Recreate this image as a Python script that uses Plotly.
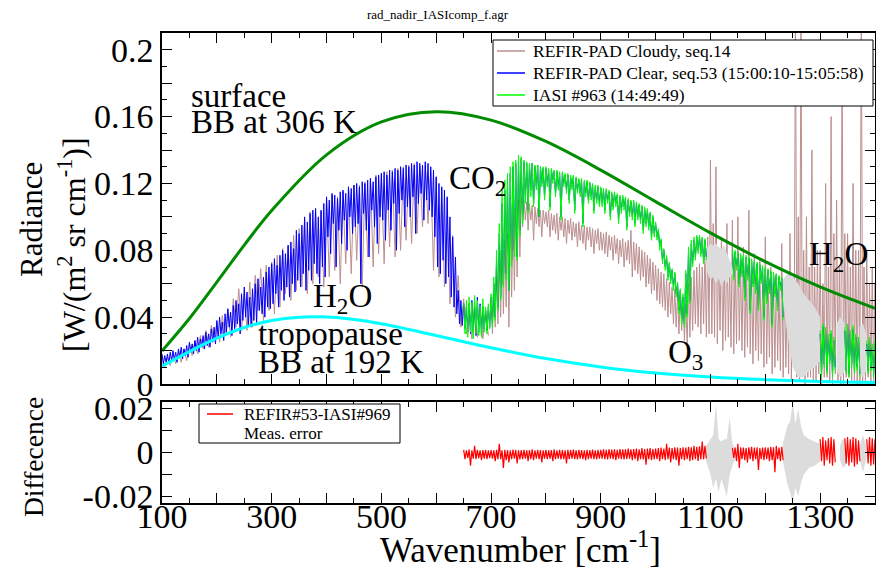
import plotly.graph_objects as go

# ---------------- data ----------------
W, H = 876, 571
N = None

# Black-body curves (radiance in W/(m2 sr cm-1))
bb306_wn = [100, 150, 200, 250, 300, 400, 500, 600, 700, 800, 900, 1000, 1100, 1200, 1300, 1400]
bb306_val = [0.0198, 0.0392, 0.0610, 0.0831, 0.1038, 0.1371, 0.1568, 0.1629, 0.1579, 0.1451,
             0.1280, 0.1091, 0.0904, 0.0732, 0.0581, 0.0453]
bb192_wn = [100, 150, 200, 250, 300, 350, 400, 450, 500, 600, 700, 800, 900, 1000, 1100, 1200, 1300, 1400]
bb192_val = [0.0107, 0.0194, 0.0274, 0.0338, 0.0380, 0.0400, 0.0401, 0.0386, 0.0360, 0.0290,
             0.0217, 0.0152, 0.0102, 0.0066, 0.0042, 0.0026, 0.0015, 0.0009]

# Spectra, in units of 1e-3 W/(m2 sr cm-1): upper level (hi) and line-core level (lo)
wn5_full = list(range(100, 1401, 5))    # 261 points
wn5_iasi = list(range(650, 1401, 5))    # 151 points
wn5_cloud = list(range(700, 1401, 5))   # 141 points
wn10_cloud = list(range(100, 691, 10))  # 60 points

clear_hi_m = [
    18, 17, 18, 19, 20, 19, 21, 22, 21, 23, 25, 24, 26, 28, 27, 29, 31, 30, 33, 34,
    38, 40, 37, 42, 45, 43, 47, 50, 48, 54, 58, 55, 52, 57, 60, 63, 58, 64, 67, 70,
    72, 75, 71, 77, 80, 78, 83, 85, 81, 92, 90, 95, 100, 97, 102, 104, 105, 100, 104, 108,
    112, 110, 114, 113, 111, 115, 116, 114, 118, 117, 119, 120, 118, 121, 120, 122, 123, 121, 124, 125,
    126, 127, 125, 128, 127, 129, 128, 130, 129, 131, 130, 132, 131, 133, 132, 131, 133, 132, 130, 128,
    124, 120, 118, 116, 112, 100, 88, 76, 56, 50, 48, 46, 48, 50, 46, 52, 48, 46, 44, 46,
    52, 60, 74, 90, 108, 116, 122, 126, 130, 132, 134, 135, 133, 132, 131, 132, 130, 131, 130, 129,
    129, 128, 128, 127, 127, 126, 126, 125, 125, 124, 124, 123, 122, 122, 121, 121, 120, 119, 118, 118,
    117, 116, 116, 115, 114, 114, 113, 112, 112, 111, 110, 109, 109, 108, 107, 106, 105, 104, 102, 100,
    96, 92, 86, 80, 76, 72, 68, 66, 60, 56, 52, 66, 80, 84, 86, 88, 88, 87, 86, N,
    N, N, N, N, N, N, N, N, 80, 79, 78, 77, 76, 76, 75, 74, 73, 72, 71, 70,
    69, 68, 67, 66, 65, 64, 63, N, N, N, N, N, N, N, N, N, N, N, N, N,
    30, 34, 32, 28, 30, 26, N, N, N, 32, 34, 30, 33, 28, 26, N, N, 24, 26, 22,
    24]
clear_lo_m = [
    12, 13, 12, 14, 15, 13, 16, 15, 17, 16, 19, 18, 20, 19, 22, 21, 23, 22, 25, 24,
    27, 30, 26, 31, 34, 29, 33, 36, 30, 38, 40, 35, 34, 38, 36, 44, 42, 40, 46, 45,
    48, 54, 46, 56, 50, 58, 52, 60, 55, 62, 58, 66, 56, 68, 62, 72, 66, 60, 70, 64,
    88, 78, 96, 70, 92, 84, 98, 80, 100, 90, 94, 96, 60, 102, 92, 76, 104, 94, 84, 100,
    98, 86, 104, 92, 108, 80, 102, 110, 94, 106, 100, 112, 90, 108, 114, 98, 110, 104, 100, 88,
    70, 66, 74, 60, 64, 52, 46, 42, 36, 35, 33, 31, 30, 32, 29, 31, 30, 33, 32, 34,
    36, 40, 46, 52, 60, 66, 56, 74, 80, 76, 92, 98, 110, 104, 116, 108, 118, 100, 120, 112,
    120, 106, 122, 114, 118, 100, 120, 116, 110, 118, 104, 116, 114, 96, 114, 110, 112, 104, 110, 108,
    108, 104, 110, 100, 106, 108, 98, 104, 106, 94, 102, 100, 96, 100, 98, 92, 96, 94, 88, 90,
    88, 82, 74, 70, 64, 62, 58, 54, 44, 38, 36, 42, 50, 72, 76, 80, 78, 74, 76, N,
    N, N, N, N, N, N, N, N, 64, 70, 60, 66, 52, 64, 44, 60, 56, 46, 62, 40,
    50, 56, 36, 54, 46, 58, 40, N, N, N, N, N, N, N, N, N, N, N, N, N,
    6, 12, 8, 14, 6, 10, N, N, N, 8, 6, 12, 8, 10, 6, N, N, 8, 10, 6,
    10]

iasi_hi_m = [
    48, 50, 52, 49, 53, 50, 47, 51, 46, 48,
    54, 64, 80, 96, 116, 122, 126, 130, 133, 134, 137, 136, 134, 133, 132, 132, 131, 131, 130, 130,
    130, 129, 129, 128, 128, 127, 127, 126, 126, 125, 125, 124, 123, 123, 122, 122, 121, 120, 119, 119,
    118, 117, 117, 116, 115, 115, 114, 113, 113, 112, 111, 110, 110, 109, 108, 107, 106, 105, 103, 101,
    97, 93, 87, 81, 77, 73, 69, 67, 61, 57, 54, 68, 82, 86, 88, 89, 89, 88, 87, N,
    N, N, N, N, N, N, N, N, 81, 80, 79, 78, 77, 77, 76, 75, 74, 73, 72, 71,
    70, 69, 68, 67, 66, 65, 64, N, N, N, N, N, N, N, N, N, N, N, N, N,
    32, 36, 34, 30, 32, 28, N, N, N, 34, 36, 32, 35, 30, 28, N, N, 26, 28, 24,
    26]
iasi_lo_m = [
    30, 28, 31, 27, 30, 29, 28, 31, 30, 33,
    34, 38, 44, 50, 58, 62, 56, 70, 76, 74, 88, 96, 108, 102, 112, 106, 116, 100, 118, 110,
    118, 104, 120, 112, 116, 98, 118, 114, 108, 116, 102, 114, 112, 94, 112, 108, 110, 102, 108, 106,
    106, 102, 108, 98, 104, 106, 96, 102, 104, 92, 100, 98, 94, 98, 96, 90, 94, 92, 86, 88,
    86, 80, 72, 68, 62, 60, 56, 52, 42, 36, 34, 40, 48, 70, 74, 78, 76, 72, 74, N,
    N, N, N, N, N, N, N, N, 62, 68, 58, 64, 50, 62, 42, 58, 54, 44, 60, 38,
    48, 54, 34, 52, 44, 56, 38, N, N, N, N, N, N, N, N, N, N, N, N, N,
    4, 10, 6, 12, 4, 8, N, N, N, 6, 4, 10, 6, 8, 4, N, N, 6, 8, 4,
    8]

# cloudy spectrum below 700 cm-1 (10 cm-1 grid) and from 700 cm-1 (5 cm-1 grid)
cloud_lowwn_hi_m = [
    17, 16, 18, 19, 21, 24, 26, 29, 32, 35, 37, 41, 45, 51, 57, 54, 61, 65, 69, 71,
    73, 77, 81, 83, 89, 93, 99, 103, 105, 103, 111, 113, 112, 115, 117, 119, 119, 121, 123, 125,
    126, 127, 128, 129, 130, 131, 132, 130, 131, 127, 123, 117, 111, 89, 65, 51, 45, 49, 47, 45]
cloud_lowwn_lo_m = [
    10, 11, 12, 13, 14, 17, 18, 21, 22, 26, 25, 29, 28, 34, 32, 32, 34, 44, 38, 44,
    42, 46, 54, 50, 56, 58, 54, 60, 64, 58, 64, 68, 60, 72, 66, 74, 58, 76, 70, 78,
    72, 82, 76, 80, 86, 84, 90, 94, 96, 68, 64, 58, 48, 40, 34, 30, 27, 28, 27, 29]
cloud_hi_m = [
    52, 58, 64, 72, 80, 86, 90, 96, 100, 106, 110, 112, 110, 109, 108, 107, 106, 105, 104, 104,
    103, 104, 102, 101, 102, 100, 100, 99, 98, 99, 97, 96, 97, 95, 95, 94, 94, 93, 92, 93,
    91, 90, 91, 89, 88, 89, 87, 86, 87, 85, 86, 92, 85, 84, 82, 80, 79, 77, 75, 73,
    71, 69, 67, 66, 63, 61, 58, 57, 55, 53, 50, 48, 60, 64, 68, 70, 72, 70, 82, 88,
    134, 96, 130, 80, 88, 74, 96, 70, 98, 76, 100, 72, 82, 68, 104, 66, 78, 64, 74, 60,
    88, 66, 70, 62, 66, 58, 84, 60, 60, 90, 64, 230, 100, 220, 80, 100, 70, 140, 70, 80,
    80, 60, 120, 70, 160, 90, 110, 70, 200, 90, 90, 70, 120, 80, 80, 230, 70, 80, 60, 70,
    60]
cloud_lo_m = [
    30, 34, 36, 40, 42, 46, 34, 52, 56, 64, 76, 94, 98, 92, 98, 86, 96, 94, 88, 96,
    94, 88, 92, 90, 86, 92, 88, 84, 90, 86, 88, 82, 86, 84, 80, 86, 82, 78, 84, 80,
    80, 78, 76, 80, 74, 78, 72, 76, 70, 74, 72, 64, 68, 66, 62, 64, 58, 60, 54, 56,
    50, 48, 46, 44, 40, 42, 36, 34, 30, 32, 26, 24, 28, 32, 36, 34, 30, 36, 28, 30,
    30, 28, 24, 32, 20, 26, 28, 22, 18, 24, 26, 20, 16, 22, 18, 12, 20, 14, 18, 10,
    12, 16, 6, 10, 14, 8, 4, 10, 6, 2, 10, 4, 2, 6, 0, 4, 4, 2, 2, 6,
    0, 4, 4, 2, 0, 6, 2, 0, 0, 4, 4, 2, 2, 0, 0, 2, 2, 4, 0, 2,
    4]

# Difference REFIR#53 - IASI#969, in units of 1e-4 W/(m2 sr cm-1)
diff_hi_u = [
    12, 10, 14, 10, 30, 12, 10, 11, 12, 10,
    11, 10, 12, 40, 10, 12, 11, 10, 13, 12, 10, 11, 12, 10, 11, 14, 10, 12, 11, 10,
    12, 10, 11, 14, 10, 12, 11, 10, 12, 11, 13, 10, 12, 11, 10, 12, 11, 13, 10, 12,
    12, 14, 12, 15, 13, 14, 12, 16, 14, 15, 18, 14, 16, 18, 15, 20, 16, 18, 20, 16,
    18, 20, 22, 18, 40, 22, 20, 24, 22, 20, 24, 22, 26, 24, 30, 26, 28, 50, 30, N,
    N, N, N, N, N, N, N, N, 20, 22, 40, 24, 22, 20, 24, 26, 22, 24, 20, 22,
    24, 22, 26, 24, 30, 22, 26, N, N, N, N, N, N, N, N, N, N, N, N, N,
    60, 70, 55, 65, 70, 60, N, N, N, 65, 70, 60, 70, 65, 55, N, N, 60, 70, 65,
    60]
diff_lo_u = [
    -30, -25, -60, -28, -30, -26, -35, -28, -30, -26,
    -28, -40, -30, -30, -70, -35, -45, -30, -28, -50, -32, -30, -28, -40, -30, -35, -28, -30, -45, -28,
    -30, -28, -40, -30, -28, -32, -30, -50, -30, -28, -30, -32, -28, -30, -35, -30, -28, -30, -32, -28,
    -28, -30, -32, -28, -30, -35, -28, -30, -32, -30, -28, -35, -30, -40, -30, -32, -55, -30, -35, -32,
    -30, -40, -30, -35, -30, -45, -30, -35, -60, -30, -35, -30, -40, -35, -30, -38, -32, -30, -28, N,
    N, N, N, N, N, N, N, N, -25, -40, -70, -30, -35, -45, -30, -40, -30, -80, -30, -35,
    -30, -40, -35, -90, -30, -40, -35, N, N, N, N, N, N, N, N, N, N, N, N, N,
    -40, -60, -35, -50, -60, -45, N, N, N, -50, -60, -45, -65, -55, -40, N, N, -50, -60, -55,
    -45]

# Grey masked regions in the radiance panel (wn, upper, lower)
grey_top = [
    ([1090, 1095, 1100, 1105, 1110, 1115, 1120, 1125, 1130, 1135, 1140, 1145],
     [0.080, 0.082, 0.084, 0.083, 0.084, 0.082, 0.081, 0.083, 0.078, 0.074, 0.070, 0.066],
     [0.074, 0.066, 0.062, 0.064, 0.060, 0.063, 0.058, 0.062, 0.060, 0.064, 0.066, 0.064]),
    ([1232, 1240, 1250, 1260, 1270, 1280, 1290, 1300],
     [0.062, 0.066, 0.064, 0.060, 0.054, 0.050, 0.046, 0.040],
     [0.050, 0.030, 0.010, 0.004, 0.004, 0.008, 0.010, 0.014]),
    ([1330, 1336, 1342, 1347], [0.036, 0.040, 0.038, 0.032], [0.008, 0.004, 0.006, 0.010]),
    ([1372, 1378, 1384], [0.034, 0.036, 0.030], [0.006, 0.004, 0.008]),
]
# Grey measurement error in the difference panel (wn, upper, lower)
grey_err = [
    ([1092, 1100, 1105, 1110, 1115, 1120, 1125, 1130, 1135, 1140, 1145],
     [0.003, 0.006, 0.008, 0.022, 0.006, 0.005, 0.006, 0.006, 0.016, 0.004, 0.002],
     [-0.004, -0.010, -0.016, -0.012, -0.018, -0.012, -0.016, -0.020, -0.010, -0.006, -0.003]),
    ([1232, 1240, 1245, 1250, 1255, 1260, 1265, 1270, 1280, 1290, 1300],
     [0.004, 0.012, 0.014, 0.023, 0.013, 0.020, 0.012, 0.008, 0.006, 0.005, 0.004],
     [-0.004, -0.014, -0.018, -0.023, -0.016, -0.020, -0.014, -0.010, -0.007, -0.006, -0.004]),
    ([1336, 1341, 1346, 1350], [0.003, 0.006, 0.005, 0.002], [-0.003, -0.007, -0.006, -0.002]),
    ([1372, 1378, 1384], [0.003, 0.008, 0.003], [-0.003, -0.009, -0.003]),
]

legend_top = ["REFIR-PAD Cloudy, seq.14", "REFIR-PAD Clear, seq.53 (15:00:10-15:05:58)", "IASI #963 (14:49:49)"]
legend_top_colors = ["#bc8f8f", "#0000ff", "#00ff00"]
legend_bot = ["REFIR#53-IASI#969", "Meas. error"]

for a, b in [(clear_hi_m, wn5_full), (clear_lo_m, wn5_full), (iasi_hi_m, wn5_iasi), (iasi_lo_m, wn5_iasi),
             (cloud_hi_m, wn5_cloud), (cloud_lo_m, wn5_cloud), (cloud_lowwn_hi_m, wn10_cloud),
             (cloud_lowwn_lo_m, wn10_cloud), (diff_hi_u, wn5_iasi), (diff_lo_u, wn5_iasi)]:
    assert len(a) == len(b), (len(a), len(b))


def scaled(vals, f):
    return [None if v is None else v * f for v in vals]


def zigzag(wn, hi, lo, half):
    """spectral trace: alternating upper level at wn and line-core level half a step later."""
    xs, ys = [], []
    for w, h, l in zip(wn, hi, lo):
        if h is None:
            xs.append(None)
            ys.append(None)
            continue
        xs += [w, w + half]
        ys += [h, l]
    return xs, ys


def band(wn, hi, lo):
    return list(wn) + list(wn)[::-1], list(hi) + list(lo)[::-1]


def px(x):
    return x / W


def py(y):
    return 1 - y / H


SERIF = "Liberation Serif"
fig = go.Figure()

xs, ys = zigzag(wn10_cloud, scaled(cloud_lowwn_hi_m, 1e-3), scaled(cloud_lowwn_lo_m, 1e-3), 5)
fig.add_trace(go.Scatter(x=xs, y=ys, mode="lines", line=dict(color="#bc8f8f", width=1), xaxis="x", yaxis="y"))
xs, ys = zigzag(wn5_cloud, scaled(cloud_hi_m, 1e-3), scaled(cloud_lo_m, 1e-3), 2.5)
fig.add_trace(go.Scatter(x=xs, y=ys, mode="lines", line=dict(color="#bc8f8f", width=1), xaxis="x", yaxis="y"))

for wn, hi, lo in grey_top:
    xs, ys = band(wn, hi, lo)
    fig.add_trace(go.Scatter(x=xs, y=ys, fill="toself", fillcolor="#dcdcdc", mode="lines",
                             line=dict(width=0, color="#dcdcdc"), hoverinfo="skip", xaxis="x", yaxis="y"))

xs, ys = zigzag(wn5_full, scaled(clear_hi_m, 1e-3), scaled(clear_lo_m, 1e-3), 2.5)
fig.add_trace(go.Scatter(x=xs, y=ys, mode="lines", line=dict(color="#0000ff", width=1), xaxis="x", yaxis="y"))
xs, ys = zigzag(wn5_iasi, scaled(iasi_hi_m, 1e-3), scaled(iasi_lo_m, 1e-3), 2.5)
fig.add_trace(go.Scatter(x=xs, y=ys, mode="lines", line=dict(color="#00ff00", width=1), xaxis="x", yaxis="y"))

fig.add_trace(go.Scatter(x=bb306_wn, y=bb306_val, mode="lines",
                         line=dict(color="#008b00", width=3, shape="spline"), xaxis="x", yaxis="y"))
fig.add_trace(go.Scatter(x=bb192_wn, y=bb192_val, mode="lines",
                         line=dict(color="#00ffff", width=3, shape="spline"), xaxis="x", yaxis="y"))

for wn, hi, lo in grey_err:
    xs, ys = band(wn, hi, lo)
    fig.add_trace(go.Scatter(x=xs, y=ys, fill="toself", fillcolor="#dcdcdc", mode="lines",
                             line=dict(width=0, color="#dcdcdc"), hoverinfo="skip", xaxis="x2", yaxis="y2"))
xs, ys = zigzag(wn5_iasi, scaled(diff_hi_u, 1e-4), scaled(diff_lo_u, 1e-4), 2.5)
fig.add_trace(go.Scatter(x=xs, y=ys, mode="lines", line=dict(color="#ff0000", width=1.2), xaxis="x2", yaxis="y2"))

x_dom = [px(162), px(875)]
top_dom = [py(384), py(33)]
bot_dom = [py(503), py(402)]

xtickvals = list(range(100, 1401, 100))
xticktext = [str(v) if (v - 100) % 200 == 0 else "" for v in xtickvals]
ytop_vals = [round(0.02 * i, 2) for i in range(11)]
ytop_text = ["0", "", "0.04", "", "0.08", "", "0.12", "", "0.16", "", "0.2"]

axis_common = dict(showline=True, linecolor="black", linewidth=1.5, mirror="ticks",
                   ticks="inside", ticklen=10, tickwidth=1.2, tickcolor="black",
                   showgrid=False, zeroline=False, automargin=False,
                   tickfont=dict(family=SERIF, size=34, color="black"))

fig.update_layout(
    width=W, height=H, margin=dict(l=0, r=0, t=0, b=0), autosize=False,
    paper_bgcolor="white", plot_bgcolor="white", showlegend=False,
    xaxis=dict(domain=x_dom, range=[100, 1400], anchor="y", tickvals=xtickvals,
               showticklabels=False,
               minor=dict(tickvals=list(range(150, 1400, 100)), ticklen=5, ticks="inside", tickcolor="black"),
               **axis_common),
    yaxis=dict(domain=top_dom, range=[0, 0.21], anchor="x", tickvals=ytop_vals, ticktext=ytop_text,
               minor=dict(dtick=0.01, tick0=0, ticklen=5, ticks="inside", tickcolor="black"),
               **axis_common),
    xaxis2=dict(domain=x_dom, range=[100, 1400], anchor="y2", tickvals=xtickvals, ticktext=xticktext,
                ticklabelstandoff=-18,
                minor=dict(tickvals=list(range(150, 1400, 100)), ticklen=5, ticks="inside", tickcolor="black"),
                **axis_common),
    yaxis2=dict(domain=bot_dom, range=[-0.023, 0.023], anchor="x2",
                tickvals=[-0.02, -0.01, 0, 0.01, 0.02], ticktext=["-0.02", "", "0", "", "0.02"],
                **axis_common),
)

# legend boxes drawn as layout shapes + text
shapes = [
    dict(type="rect", xref="paper", yref="paper", x0=px(493), x1=px(873), y0=py(106), y1=py(40),
         line=dict(color="black", width=1), fillcolor="white", layer="above"),
    dict(type="rect", xref="paper", yref="paper", x0=px(199), x1=px(400), y0=py(443), y1=py(404),
         line=dict(color="black", width=1), fillcolor="white", layer="above"),
    dict(type="line", xref="paper", yref="paper", x0=px(207), x1=px(233), y0=py(414), y1=py(414),
         line=dict(color="#ff0000", width=1.5), layer="above"),
]
legend_rows = [51, 73, 95]
for yrow, col in zip(legend_rows, legend_top_colors):
    shapes.append(dict(type="line", xref="paper", yref="paper", x0=px(497), x1=px(525),
                       y0=py(yrow), y1=py(yrow), line=dict(color=col, width=1.5), layer="above"))

ann_font = dict(family=SERIF, size=33, color="black")
annotations = [
    dict(text="rad_nadir_IASIcomp_f.agr", x=0.5, y=py(14), font=dict(family=SERIF, size=13, color="black"),
         xanchor="center", yanchor="middle"),
    dict(text="surface", x=px(189), y=py(96), font=ann_font, xanchor="left", yanchor="middle"),
    dict(text="BB at 306 K", x=px(189), y=py(122), font=ann_font, xanchor="left", yanchor="middle"),
    dict(text="H<sub>2</sub>O", x=px(311), y=py(298), font=ann_font, xanchor="left", yanchor="middle"),
    dict(text="tropopause", x=px(256), y=py(334), font=ann_font, xanchor="left", yanchor="middle"),
    dict(text="BB at 192 K", x=px(256), y=py(362), font=ann_font, xanchor="left", yanchor="middle"),
    dict(text="CO<sub>2</sub>", x=px(447), y=py(180), font=ann_font, xanchor="left", yanchor="middle"),
    dict(text="O<sub>3</sub>", x=px(666), y=py(354), font=ann_font, xanchor="left", yanchor="middle"),
    dict(text="H<sub>2</sub>O", x=px(807), y=py(256), font=ann_font, xanchor="left", yanchor="middle"),
    dict(text="Radiance", x=px(32), y=py(220), font=dict(family=SERIF, size=31, color="black"),
         textangle=-90, xanchor="center", yanchor="middle"),
    dict(text="[W/(m<sup>2</sup> sr cm<sup>-1</sup>)]", x=px(72), y=py(245),
         font=dict(family=SERIF, size=32, color="black"), textangle=-90, xanchor="center", yanchor="middle"),
    dict(text="Diffecence", x=px(33), y=py(457), font=dict(family=SERIF, size=27.5, color="black"),
         textangle=-90, xanchor="center", yanchor="middle"),
    dict(text="Wavenumber [cm<sup>-1</sup>]", x=px(520), y=0.0, borderpad=0,
         font=dict(family=SERIF, size=35, color="black"), xanchor="center", yanchor="bottom"),
]
for yrow, name in zip(legend_rows, legend_top):
    annotations.append(dict(text=name, x=px(531), y=py(yrow), font=dict(family=SERIF, size=17.5, color="black"),
                            xanchor="left", yanchor="middle"))
for yrow, name in zip([414, 433], legend_bot):
    annotations.append(dict(text=name, x=px(242), y=py(yrow), font=dict(family=SERIF, size=17, color="black"),
                            xanchor="left", yanchor="middle"))
for a in annotations:
    a.update(xref="paper", yref="paper", showarrow=False)
fig.update_layout(annotations=annotations, shapes=shapes)

fig.write_html("out.html")
